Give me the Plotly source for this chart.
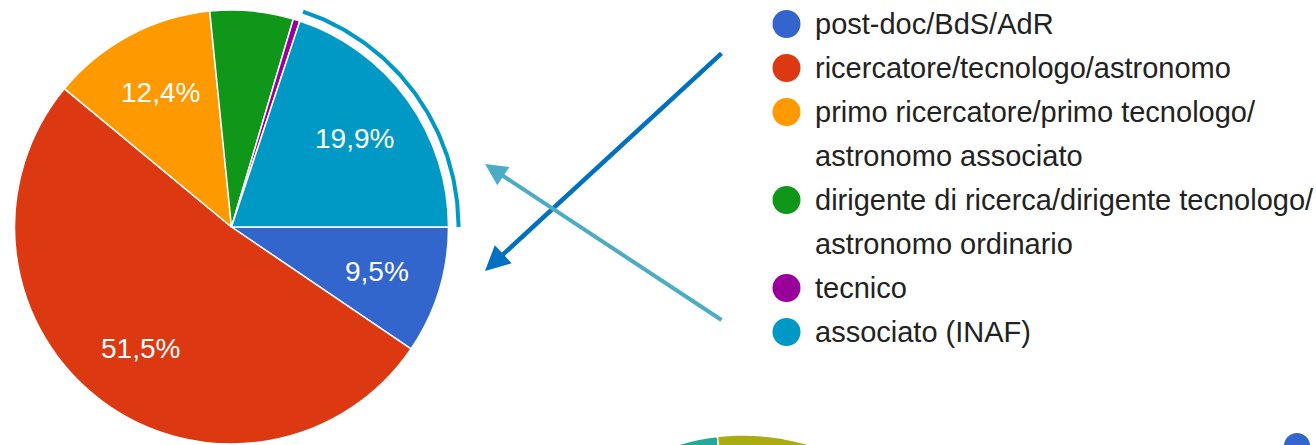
import math
import plotly.graph_objects as go

# ---- data -------------------------------------------------------------
categories = [
    "post-doc/BdS/AdR",
    "ricercatore/tecnologo/astronomo",
    "primo ricercatore/primo tecnologo/astronomo associato",
    "dirigente di ricerca/dirigente tecnologo/astronomo ordinario",
    "tecnico",
    "associato (INAF)",
]
shares = [9.5, 51.5, 12.4, 6.2, 0.5, 19.9]
colors = ["#3366cc", "#dc3912", "#ff9900", "#109618", "#990099", "#0099c6"]
highlighted = "associato (INAF)"

# ---- geometry / style ---------------------------------------------------
W, H = 1316, 445
CX, CY, R = 231.5, 227.0, 217.0      # pie centre and radius (px, y downward)
START = 90.0                          # first slice starts at 3 o'clock
FONT = "Liberation Sans, Arial, Helvetica, sans-serif"
TEXT_COLOR = "#222222"
LABEL_MIN = 9.0                       # smaller slices get no inside label

total = sum(shares)


def slice_angles():
    a = START
    out = []
    for v in shares:
        span = 360.0 * v / total
        out.append((a, a + span))
        a += span
    return out


def polar(cx, cy, theta_deg, r):
    t = math.radians(theta_deg)
    return cx + r * math.sin(t), cy - r * math.cos(t)


def wrap(label, limit=42):
    if len(label) <= limit:
        return [label]
    cut = label.rfind("/", 0, limit) + 1
    return [label[:cut], label[cut:]]


fig = go.Figure()

# ---- pie ----------------------------------------------------------------
fig.add_trace(go.Pie(
    labels=categories,
    values=shares,
    sort=False,
    direction="clockwise",
    rotation=START,
    marker=dict(colors=colors, line=dict(color="white", width=1.5)),
    textinfo="none",
    hoverinfo="label+percent",
    showlegend=False,
    domain=dict(x=[(CX - R) / W, (CX + R) / W],
                y=[(H - CY - R) / H, (H - CY + R) / H]),
))

angles = slice_angles()
annotations = []

# percentage labels inside the slices
for v, (a0, a1) in zip(shares, angles):
    if v < LABEL_MIN:
        continue
    x, y = polar(CX, CY, (a0 + a1) / 2, 0.7 * R)
    annotations.append(dict(
        x=x, y=y, xref="x", yref="y", showarrow=False,
        text=f"{v:.1f}".replace(".", ",") + "%",
        font=dict(family=FONT, size=28, color="white"),
        xanchor="center", yanchor="middle",
    ))

# highlight ring around the selected slice
hi = categories.index(highlighted)
h0, h1 = angles[hi]
n = 120
ring = [polar(CX, CY, h0 + (h1 - h0) * i / n, R + 10) for i in range(n + 1)]
fig.add_trace(go.Scatter(
    x=[p[0] for p in ring], y=[p[1] for p in ring],
    mode="lines", line=dict(color=colors[hi], width=4),
    hoverinfo="skip", showlegend=False,
))

# ---- legend -------------------------------------------------------------
LEG_X, LEG_TEXT_X, LEG_Y0, LEG_STEP = 786.5, 813, 24, 44
line_idx = 0
dot_x, dot_y = [], []
for name in categories:
    lines = wrap(name)
    dot_x.append(LEG_X)
    dot_y.append(LEG_Y0 + LEG_STEP * line_idx)
    for ln in lines:
        annotations.append(dict(
            x=LEG_TEXT_X, y=LEG_Y0 + LEG_STEP * line_idx, xref="x", yref="y",
            showarrow=False, text=ln, xanchor="left", yanchor="middle",
            font=dict(family=FONT, size=29, color=TEXT_COLOR),
        ))
        line_idx += 1
fig.add_trace(go.Scatter(
    x=dot_x, y=dot_y, mode="markers",
    marker=dict(size=28, color=colors, line=dict(width=0)),
    hoverinfo="skip", showlegend=False,
))

# ---- crossing arrows ------------------------------------------------------
arrows = [
    dict(tail=(723, 52), head=(485, 271), color="#0070c0", width=4.5),
    dict(tail=(723, 321), head=(485, 164), color="#4bacc6", width=4),
]
for a in arrows:
    annotations.append(dict(
        x=a["head"][0], y=a["head"][1], ax=a["tail"][0], ay=a["tail"][1],
        xref="x", yref="y", axref="x", ayref="y", text="",
        showarrow=True, arrowhead=2, arrowsize=1.1,
        arrowwidth=a["width"], arrowcolor=a["color"], standoff=0,
    ))


# ---- neighbouring chart peeking in at the bottom edge -----------------------
def sector_path(cx, cy, r, a0, a1, steps=60):
    pts = [(cx, cy)] + [polar(cx, cy, a0 + (a1 - a0) * i / steps, r)
                        for i in range(steps + 1)]
    return "M " + " L ".join(f"{x:.2f},{y:.2f}" for x, y in pts) + " Z"


shapes = [
    dict(type="path", xref="x", yref="y",
         path=sector_path(743, 661, 226, -50, -6.5),
         fillcolor="#22aa99", line=dict(color="white", width=1.5), layer="below"),
    dict(type="path", xref="x", yref="y",
         path=sector_path(743, 661, 226, -6.5, 50),
         fillcolor="#aaaa11", line=dict(color="white", width=1.5), layer="below"),
    dict(type="circle", xref="x", yref="y", x0=1284, x1=1310, y0=433, y1=459,
         fillcolor="#3366cc", line=dict(width=0)),
]

fig.update_layout(
    width=W, height=H,
    margin=dict(l=0, r=0, t=0, b=0),
    paper_bgcolor="white", plot_bgcolor="rgba(0,0,0,0)",
    xaxis=dict(range=[0, W], visible=False, fixedrange=True),
    yaxis=dict(range=[H, 0], visible=False, fixedrange=True),
    annotations=annotations,
    shapes=shapes,
    showlegend=False,
    font=dict(family=FONT),
)

fig.write_html("out.html", config={"displayModeBar": False})
